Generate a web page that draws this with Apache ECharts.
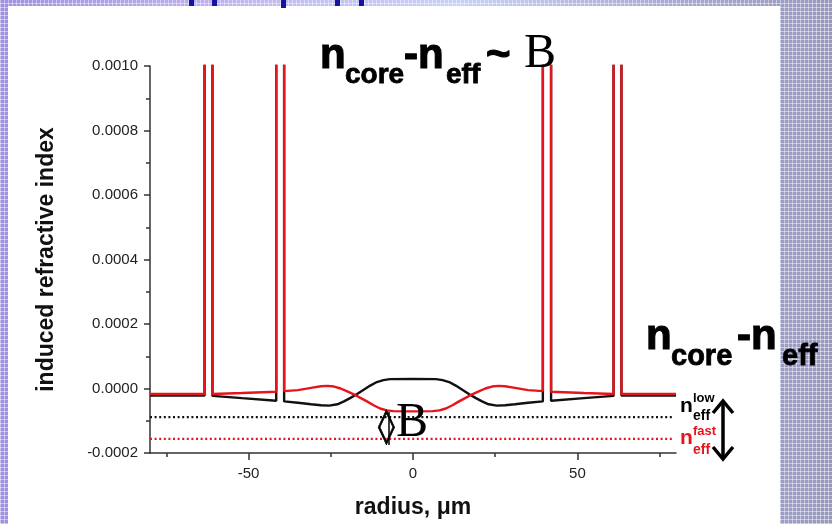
<!DOCTYPE html>
<html><head><meta charset="utf-8">
<script src="https://cdn.jsdelivr.net/npm/echarts@6/dist/echarts.min.js"></script>
<style>
html,body{margin:0;padding:0;width:832px;height:524px;overflow:hidden;}
body{background-color:#b0acd8;
background-image:
 repeating-linear-gradient(0deg, rgba(255,255,255,0.45) 0 1px, transparent 1px 4px),
 repeating-linear-gradient(90deg, rgba(255,255,255,0.45) 0 1px, transparent 1px 4px),
 linear-gradient(90deg, #a090e0 0%, #c0b8f0 30%, #c8d0f4 55%, #a8aad4 80%, #9698bc 100%);}
#panel{position:absolute;left:8px;top:6px;width:772px;height:518px;background:#fff;}
#chart{position:absolute;left:0;top:0;width:832px;height:524px;}
</style></head>
<body>
<div id="panel"></div>
<div id="chart"></div>
<script>
// ---- data ----
const xTickLabels = [-50, 0, 50];
const xMajorTicks = [-50, 0, 50];
const xMinorTicks = [-75, -25, 25, 75];

// spikes rise beyond the axis top (0.0010) and are clipped there
const redRadius = [-80, -63.4, -63.4, -61.0, -61.0, -52, -41.6, -41.6, -39.2, -39.2, -35, -31, -28, -26, -24, -22, -20, -18, -16, -14, -12, -10, -8, -6, 0, 6, 8, 10, 12, 14, 16, 18, 20, 22, 24, 26, 28, 31, 35, 39.5, 39.5, 42.0, 42.0, 52, 61.0, 61.0, 63.4, 63.4, 80];
const redIndex = [-1.7e-5, -1.7e-5, 0.0013, 0.0013, -1.7e-5, -1.4e-5, -1.0e-5, 0.0013, 0.0013, -0.8e-5, -0.5e-5, 0.2e-5, 0.7e-5, 0.8e-5, 0.6e-5, 0.0, -0.9e-5, -1.8e-5, -2.9e-5, -4.0e-5, -5.2e-5, -6.2e-5, -6.8e-5, -7.0e-5, -7.1e-5, -7.0e-5, -6.8e-5, -6.2e-5, -5.2e-5, -4.0e-5, -2.9e-5, -1.8e-5, -0.9e-5, 0.0, 0.6e-5, 0.8e-5, 0.7e-5, 0.2e-5, -0.5e-5, -0.8e-5, 0.0013, 0.0013, -1.0e-5, -1.4e-5, -1.7e-5, 0.0013, 0.0013, -1.7e-5, -1.7e-5];

const blackRadius = [-80, -63.4, -63.4, -61.0, -61.0, -52, -41.6, -41.6, -39.2, -39.2, -35, -31, -28, -25.5, -23, -21, -19, -17, -15, -13, -11, -9, -7, 0, 7, 9, 11, 13, 15, 17, 19, 21, 23, 25.5, 28, 31, 35, 39.5, 39.5, 42.0, 42.0, 52, 61.0, 61.0, 63.4, 63.4, 80];
const blackIndex = [-2.2e-5, -2.2e-5, 0.0013, 0.0013, -2.3e-5, -3.0e-5, -3.8e-5, 0.0013, 0.0013, -4.0e-5, -4.4e-5, -4.9e-5, -5.2e-5, -5.3e-5, -4.9e-5, -4.0e-5, -2.9e-5, -1.7e-5, -0.4e-5, 0.9e-5, 2.0e-5, 2.6e-5, 2.9e-5, 3.0e-5, 2.9e-5, 2.6e-5, 2.0e-5, 0.9e-5, -0.4e-5, -1.7e-5, -2.9e-5, -4.0e-5, -4.9e-5, -5.3e-5, -5.2e-5, -4.9e-5, -4.4e-5, -4.0e-5, 0.0013, 0.0013, -3.8e-5, -3.0e-5, -2.3e-5, 0.0013, 0.0013, -2.2e-5, -2.2e-5];

const levelRadius = [-80, 79];
const nEffLow = [-8.9e-5, -8.9e-5];
const nEffFast = [-1.56e-4, -1.56e-4];

// ---- helpers ----
function pairs(xs, ys) { return xs.map((x, i) => [x, ys[i]]); }
const SANS = '"Liberation Sans", Arial, sans-serif';
const SERIF = '"Liberation Serif", "Times New Roman", serif';
function txt(str, x, base, size, opt) {
  opt = opt || {};
  const color = opt.color || '#000';
  return {
    type: 'text', x: x, y: base - 0.34 * size, z: 100,
    style: {
      text: str,
      font: (opt.weight || 'bold') + ' ' + size + 'px ' + (opt.family || SANS),
      fill: color,
      stroke: opt.heavy ? color : null,
      lineWidth: opt.heavy || 0,
      align: 'left', verticalAlign: 'middle'
    }
  };
}

const chart = echarts.init(document.getElementById('chart'), null, { renderer: 'canvas' });
const axisColor = '#333';
const option = {
  backgroundColor: 'transparent',
  animation: false,
  grid: { left: 150, right: 156, top: 66, bottom: 70, containLabel: false },
  xAxis: [{
    type: 'value', min: -80, max: 80, position: 'bottom',
    name: 'radius, \u03bcm', nameLocation: 'middle', nameGap: 43,
    nameTextStyle: { fontFamily: SANS, fontWeight: 'bold', fontSize: 23, color: '#111' },
    axisLine: { show: true, onZero: false, lineStyle: { color: axisColor, width: 1.5 } },
    axisTick: { show: true, inside: false, length: 7, customValues: xMajorTicks, lineStyle: { color: axisColor, width: 1.5 } },
    axisLabel: { show: true, customValues: xTickLabels, fontFamily: SANS, fontSize: 15, color: '#222', margin: 13 },
    splitLine: { show: false }
  }, {
    type: 'value', min: -80, max: 80, position: 'bottom',
    axisLine: { show: false, onZero: false },
    axisTick: { show: true, inside: false, length: 4, customValues: xMinorTicks, lineStyle: { color: axisColor, width: 1.5 } },
    axisLabel: { show: false },
    splitLine: { show: false }
  }],
  yAxis: {
    type: 'value', min: -0.0002, max: 0.001, interval: 0.0002,
    name: 'induced refractive index', nameLocation: 'middle', nameGap: 92,
    nameTextStyle: { fontFamily: SANS, fontWeight: 'bold', fontSize: 23, color: '#111' },
    axisLine: { show: true, onZero: false, lineStyle: { color: axisColor, width: 1.5 } },
    axisTick: { show: true, inside: false, length: 6, lineStyle: { color: axisColor, width: 1.5 } },
    minorTick: { show: true, splitNumber: 2, length: 4, lineStyle: { color: axisColor, width: 1.5 } },
    axisLabel: {
      fontFamily: SANS, fontSize: 15, color: '#222', margin: 12,
      formatter: v => (Math.abs(v) < 1e-9 ? 0 : v).toFixed(4)
    },
    splitLine: { show: false }, minorSplitLine: { show: false }
  },
  series: [
    { name: 'nEffLow', type: 'line', symbol: 'none', data: pairs(levelRadius, nEffLow),
      lineStyle: { color: '#111', width: 2.2, type: [2, 2.6] }, z: 2 },
    { name: 'nEffFast', type: 'line', symbol: 'none', data: pairs(levelRadius, nEffFast),
      lineStyle: { color: '#e8141c', width: 2.2, type: [2, 2.6] }, z: 2 },
    { name: 'slow', type: 'line', symbol: 'none', clip: true, data: pairs(blackRadius, blackIndex),
      lineStyle: { color: '#111', width: 2.4 }, z: 3 },
    { name: 'fast', type: 'line', symbol: 'none', clip: true, data: pairs(redRadius, redIndex),
      lineStyle: { color: '#e8141c', width: 2.4 }, z: 4 }
  ],
  graphic: [
    // cut-off slide title fragments
    { type: 'rect', shape: { x: 189, y: 0, width: 5, height: 6 }, style: { fill: '#1414a0' } },
    { type: 'rect', shape: { x: 212, y: 0, width: 5, height: 6 }, style: { fill: '#1414a0' } },
    { type: 'rect', shape: { x: 281, y: 0, width: 5, height: 8 }, style: { fill: '#1414a0' } },
    { type: 'rect', shape: { x: 335, y: 0, width: 5, height: 6 }, style: { fill: '#1414a0' } },
    { type: 'rect', shape: { x: 359, y: 0, width: 5, height: 6 }, style: { fill: '#1414a0' } },
    // top formula
    txt('n', 320, 71, 42, { heavy: 1.2 }),
    txt('core', 345, 85, 28, { heavy: 0.8 }),
    txt('-n', 404, 71, 42, { heavy: 1.2 }),
    txt('eff', 446, 85, 28, { heavy: 0.8 }),
    txt('~', 486, 71, 42, { heavy: 1.2 }),
    txt('B', 524, 71, 48, { weight: 'normal', family: SERIF }),
    // right formula
    txt('n', 646, 352, 42, { heavy: 1.2 }),
    txt('core', 671, 367, 29, { heavy: 0.8 }),
    txt('-n', 737, 352, 42, { heavy: 1.2 }),
    txt('eff', 782, 367, 29, { heavy: 0.8 }),
    // n_eff labels
    txt('n', 680, 413, 21),
    txt('low', 693, 403, 13),
    txt('eff', 693, 421, 14),
    txt('n', 680, 445, 21, { color: '#e8141c' }),
    txt('fast', 693, 436, 13, { color: '#e8141c' }),
    txt('eff', 693, 455, 14, { color: '#e8141c' }),
    // delta B
    txt('\u25ca', 378, 440, 34, { weight: 'normal', family: '"DejaVu Sans", sans-serif', heavy: 0.6 }),
    { type: 'line', shape: { x1: 389, y1: 412, x2: 389, y2: 445 }, style: { stroke: '#000', lineWidth: 1.5 }, z: 100 },
    txt('B', 396, 440, 48, { weight: 'normal', family: SERIF }),
    // double arrow
    { type: 'polyline', shape: { points: [[723, 401], [723, 459]] }, style: { stroke: '#000', lineWidth: 3.5, fill: null }, z: 100 },
    { type: 'polyline', shape: { points: [[713, 413], [723, 401], [733, 413]] }, style: { stroke: '#000', lineWidth: 3.5, fill: null, lineJoin: 'miter' }, z: 100 },
    { type: 'polyline', shape: { points: [[713, 447], [723, 459], [733, 447]] }, style: { stroke: '#000', lineWidth: 3.5, fill: null, lineJoin: 'miter' }, z: 100 }
  ]
};
chart.setOption(option);
</script>
</body></html>
